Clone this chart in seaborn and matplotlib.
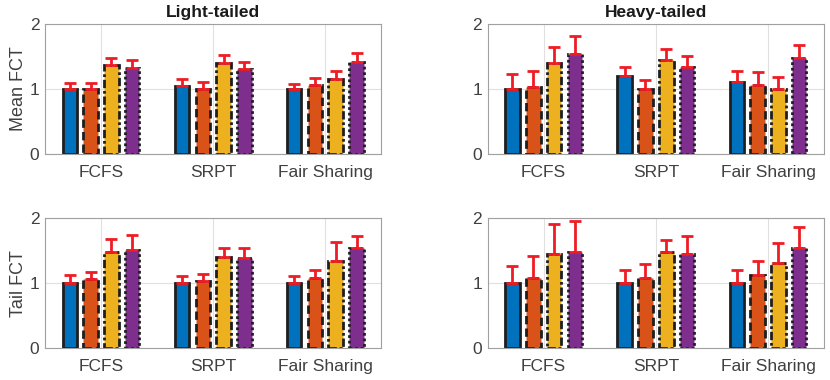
import numpy as np
import pandas as pd
import seaborn as sns
import matplotlib.pyplot as plt

policies = ['FCFS', 'SRPT', 'Fair Sharing']
variants = ['V1', 'V2', 'V3', 'V4']

# values per variant, each list = [FCFS, SRPT, Fair Sharing]
light_mean = [[1.00, 1.05, 1.00], [1.00, 1.00, 1.06], [1.36, 1.39, 1.15], [1.32, 1.30, 1.41]]
light_mean_err = [[1.09, 1.15, 1.08], [1.09, 1.10, 1.17], [1.48, 1.52, 1.28], [1.45, 1.41, 1.55]]
heavy_mean = [[1.00, 1.19, 1.11], [1.03, 1.00, 1.06], [1.39, 1.45, 1.00], [1.54, 1.34, 1.48]]
heavy_mean_err = [[1.23, 1.33, 1.28], [1.27, 1.13, 1.26], [1.65, 1.62, 1.18], [1.82, 1.50, 1.68]]
light_tail = [[1.00, 1.00, 1.00], [1.06, 1.04, 1.08], [1.48, 1.40, 1.34], [1.51, 1.39, 1.55]]
light_tail_err = [[1.12, 1.11, 1.11], [1.18, 1.14, 1.21], [1.69, 1.54, 1.63], [1.75, 1.55, 1.73]]
heavy_tail = [[1.00, 1.00, 1.00], [1.08, 1.08, 1.12], [1.45, 1.48, 1.31], [1.48, 1.45, 1.55]]
heavy_tail_err = [[1.27, 1.21, 1.21], [1.42, 1.29, 1.35], [1.91, 1.67, 1.62], [1.96, 1.73, 1.86]]

colors = ['#0072BD', '#D95319', '#EDB120', '#7E2F8E']
edge_styles = ['-', (0, (3, 1.5)), (0, (3, 1, 1, 1)), (0, (1, 1))]

sns.set_theme(style='white')
plt.rcParams['font.family'] = ['Liberation Sans', 'DejaVu Sans']

fig, axes = plt.subplots(2, 2, figsize=(8.3, 3.8), dpi=100)
plt.subplots_adjust(left=0.054, right=0.993, top=0.937, bottom=0.084, wspace=0.315, hspace=0.5)

panels = [
    (axes[0, 0], light_mean, light_mean_err, 'Light-tailed', 'Mean FCT'),
    (axes[0, 1], heavy_mean, heavy_mean_err, 'Heavy-tailed', ''),
    (axes[1, 0], light_tail, light_tail_err, '', 'Tail FCT'),
    (axes[1, 1], heavy_tail, heavy_tail_err, '', ''),
]

for ax, vals, errs, title, ylabel in panels:
    rows = []
    for vi, v in enumerate(variants):
        for pi, p in enumerate(policies):
            rows.append({'policy': p, 'variant': v, 'value': vals[vi][pi], 'top': errs[vi][pi]})
    df = pd.DataFrame(rows)
    sns.barplot(data=df, x='policy', y='value', hue='variant', order=policies, hue_order=variants,
                palette=colors, saturation=1, width=0.74, gap=0.3, legend=False, ax=ax, zorder=2)
    # style bar edges and add error bars
    bar_groups = list(ax.containers)
    for vi, container in enumerate(bar_groups):
        for pi, bar in enumerate(container):
            bar.set_edgecolor('#1e1e1e')
            bar.set_linewidth(2)
            bar.set_linestyle(edge_styles[vi])
            cx = bar.get_x() + bar.get_width() / 2
            h = vals[vi][pi]
            ax.errorbar(cx, h, yerr=[[0], [errs[vi][pi] - h]], fmt='none', ecolor='#EE1C25',
                        elinewidth=2, capsize=4, capthick=2, zorder=3)
    ax.set_xlim(-0.5, 2.5)
    ax.set_ylim(0, 2)
    ax.set_yticks([0, 1, 2])
    ax.grid(True, color='#E0E0E0', linewidth=0.8, zorder=0)
    ax.set_axisbelow(True)
    ax.set_xlabel('')
    ax.set_ylabel(ylabel, fontsize=13, color='#404040', labelpad=2)
    ax.set_title(title, fontsize=12.5, fontweight='bold', color='#1a1a1a', pad=5)
    ax.tick_params(axis='both', labelsize=12.5, labelcolor='#404040', direction='in',
                   length=3, color='#808080', pad=4)
    ax.tick_params(axis='x', length=0, pad=8)
    for s in ax.spines.values():
        s.set_color('#A0A0A0')
        s.set_linewidth(0.8)

fig.savefig('out.png', dpi=100)
